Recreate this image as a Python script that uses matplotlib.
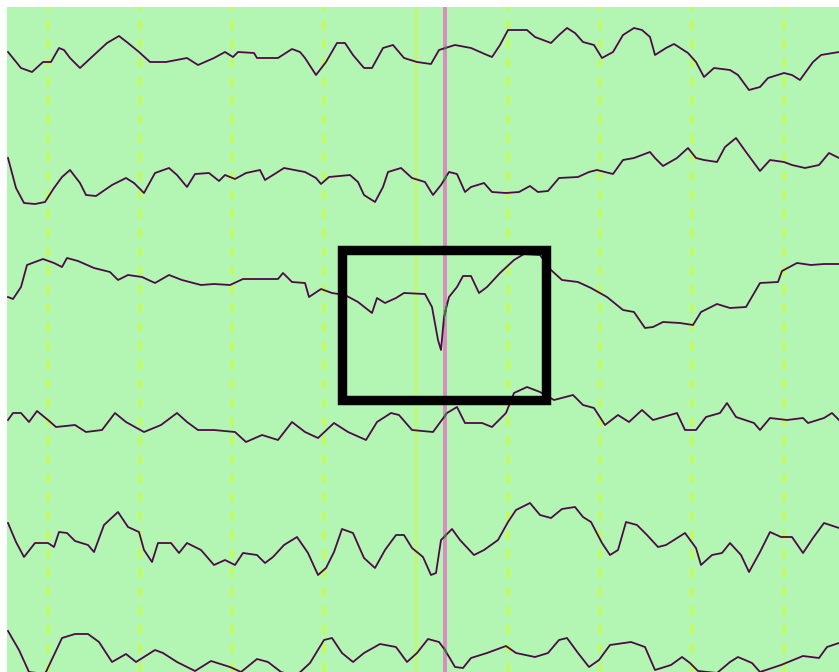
import matplotlib.pyplot as plt
from matplotlib.patches import Rectangle

# six EEG channels, (time px, amplitude px)
ch1_t = [8, 21, 32, 43, 51, 59, 64, 70, 80, 94, 107, 119, 128, 139, 150, 166, 187, 198, 214, 225,
         233, 238, 254, 257, 278, 292, 300, 305, 316, 326, 337, 345, 353, 364, 372, 383, 393, 404,
         417, 431, 439, 455, 471, 487, 492, 500, 508, 527, 535, 551, 559, 567, 575, 583, 594, 602,
         613, 623, 634, 642, 650, 655, 666, 674, 688, 696, 704, 714, 730, 738, 749, 760, 768, 784,
         792, 800, 813, 821, 839]
ch1_v = [52, 68, 72, 62, 62, 48, 50, 58, 68, 55, 43, 36, 43, 52, 62, 62, 58, 65, 58, 52,
         57, 52, 53, 58, 58, 49, 52, 58, 75, 62, 43, 43, 55, 68, 68, 48, 45, 58,
         62, 64, 50, 45, 48, 55, 57, 45, 30, 30, 37, 43, 35, 28, 33, 42, 45, 58,
         52, 35, 28, 30, 37, 55, 48, 44, 53, 62, 77, 68, 70, 75, 90, 87, 78, 73,
         75, 80, 62, 55, 52]

ch2_t = [8, 16, 24, 35, 45, 54, 62, 70, 80, 86, 96, 112, 126, 134, 144, 155, 169, 177, 187, 195,
         209, 219, 225, 235, 246, 260, 265, 273, 284, 305, 316, 321, 329, 350, 358, 364, 375, 383,
         388, 401, 412, 425, 433, 441, 449, 457, 465, 471, 484, 492, 506, 519, 530, 538, 548, 559,
         578, 589, 597, 613, 623, 634, 650, 655, 663, 677, 688, 696, 704, 717, 725, 736, 746, 760,
         770, 784, 792, 805, 819, 829, 839]
ch2_v = [158, 188, 203, 204, 202, 188, 177, 170, 183, 195, 196, 185, 178, 183, 193, 173, 168, 175, 187, 174,
         173, 181, 175, 179, 173, 170, 180, 175, 168, 172, 178, 184, 177, 175, 182, 195, 202, 187,
         172, 168, 178, 182, 195, 185, 172, 174, 192, 187, 183, 192, 193, 192, 186, 192, 191, 178,
         177, 172, 170, 174, 160, 158, 152, 158, 166, 158, 148, 158, 160, 162, 147, 138, 152, 171,
         160, 162, 165, 168, 165, 153, 158]

ch3_t = [8, 13, 21, 27, 35, 43, 54, 62, 67, 78, 94, 110, 118, 128, 142, 155, 169, 182, 201, 214,
         230, 243, 278, 283, 292, 305, 309, 321, 332, 345, 358, 372, 377, 385, 396, 404, 425, 432,
         438, 441, 444, 449, 457, 463, 471, 479, 487, 500, 514, 524, 540, 551, 562, 578, 591, 607,
         623, 634, 645, 653, 663, 680, 693, 701, 717, 730, 746, 760, 778, 782, 797, 811, 824, 839]
ch3_v = [297, 299, 287, 265, 262, 259, 263, 267, 258, 261, 268, 272, 280, 275, 277, 283, 275, 280, 285, 284,
         285, 279, 279, 273, 282, 283, 297, 289, 293, 295, 302, 313, 298, 303, 298, 293, 294, 307,
         340, 350, 317, 297, 287, 276, 276, 293, 287, 273, 260, 254, 255, 270, 280, 282, 288, 297,
         310, 312, 328, 327, 322, 323, 325, 312, 304, 308, 307, 283, 282, 271, 263, 265, 264, 264]

ch4_t = [8, 13, 21, 29, 37, 48, 56, 75, 86, 102, 115, 126, 144, 161, 177, 187, 198, 214, 235, 246,
         262, 278, 292, 305, 318, 334, 348, 366, 377, 391, 399, 412, 433, 447, 457, 465, 482, 492,
         506, 514, 527, 540, 554, 573, 583, 594, 605, 618, 629, 642, 653, 677, 685, 696, 706, 720,
         727, 736, 754, 760, 770, 787, 803, 808, 824, 832, 839]
ch4_v = [420, 413, 413, 422, 411, 420, 427, 425, 432, 430, 413, 422, 432, 425, 413, 422, 430, 430, 432, 442,
         435, 440, 422, 432, 438, 423, 432, 440, 422, 413, 415, 430, 432, 413, 407, 423, 423, 427,
         413, 393, 387, 392, 400, 395, 405, 408, 425, 415, 422, 410, 420, 413, 430, 430, 417, 413,
         403, 417, 423, 430, 418, 420, 418, 423, 418, 413, 420]

ch5_t = [8, 16, 24, 35, 48, 54, 59, 67, 75, 88, 94, 104, 118, 128, 139, 144, 152, 158, 171, 179,
         187, 201, 214, 225, 235, 243, 257, 265, 273, 284, 297, 308, 318, 326, 334, 342, 353, 364,
         375, 385, 396, 404, 412, 423, 431, 436, 441, 452, 460, 474, 484, 498, 508, 516, 530, 540,
         551, 562, 575, 583, 591, 602, 610, 618, 626, 637, 647, 658, 666, 674, 685, 696, 701, 712,
         722, 730, 741, 749, 760, 770, 781, 792, 803, 813, 824, 839]
ch5_v = [523, 542, 557, 543, 543, 547, 532, 533, 541, 545, 552, 525, 512, 527, 532, 550, 562, 543, 543, 553,
         543, 550, 565, 560, 565, 553, 555, 563, 557, 545, 537, 553, 575, 568, 552, 529, 533, 558,
         568, 550, 535, 535, 548, 557, 575, 573, 540, 529, 540, 555, 550, 540, 522, 510, 503, 515,
         518, 509, 507, 517, 522, 543, 555, 550, 522, 525, 535, 547, 545, 540, 533, 548, 565, 555,
         553, 543, 555, 572, 552, 532, 537, 537, 553, 538, 523, 528]

ch6_t = [8, 19, 29, 45, 54, 62, 75, 88, 99, 112, 126, 136, 155, 163, 177, 195, 211, 230, 241, 257,
         268, 281, 296, 310, 324, 332, 342, 353, 364, 380, 396, 407, 417, 428, 439, 445, 455, 463,
         471, 487, 506, 516, 535, 548, 559, 567, 578, 589, 599, 610, 631, 645, 655, 671, 682, 690,
         698, 717, 730, 738, 752, 760, 781, 803, 819, 827, 839]
ch6_v = [631, 650, 672, 674, 655, 638, 634, 634, 642, 662, 654, 662, 650, 653, 662, 671, 661, 667, 672, 659,
         662, 672, 676, 663, 640, 638, 653, 662, 653, 644, 647, 662, 653, 639, 642, 650, 667, 668,
         658, 653, 646, 653, 657, 653, 640, 638, 653, 667, 660, 645, 642, 647, 670, 665, 657, 663,
         671, 673, 662, 657, 663, 672, 665, 656, 658, 647, 643]

channels = [(ch1_t, ch1_v), (ch2_t, ch2_v), (ch3_t, ch3_v),
            (ch4_t, ch4_v), (ch5_t, ch5_v), (ch6_t, ch6_v)]

grid_dashed = [48, 140, 232, 324, 508, 600, 692, 784]
grid_solid = 416
cursor_x = 445
box_x = [342, 546]
box_y = [250, 400]

fig = plt.figure(figsize=(8.39, 6.72), dpi=100)
ax = fig.add_axes([7 / 839, 0, 832 / 839, 665 / 672])
ax.set_xlim(7, 839)
ax.set_ylim(672, 7)
ax.axis('off')
ax.add_patch(Rectangle((7, 7), 832, 665, facecolor='#b3f6b3', edgecolor='none', zorder=0))

for gx in grid_dashed:
    ax.axvline(gx, color='#ccff33', lw=1.7, dashes=(4, 4), zorder=1)
ax.axvline(grid_solid, color='#ccff33', lw=1.1, zorder=1)
ax.axvline(cursor_x, color='#d98cc0', lw=2.8, zorder=2)

# where the traces cross the cursor they show up dark green
cursor_band = Rectangle((cursor_x - 1.5, 0), 3, 680, transform=ax.transData)
for t, v in channels:
    ax.plot(t, v, color='#4d0a47', lw=1.3, zorder=3)
    seg, = ax.plot(t, v, color='#2f7a3c', lw=1.6, zorder=3.5)
    seg.set_clip_path(cursor_band)

ax.add_patch(Rectangle((box_x[0], box_y[0]), box_x[1] - box_x[0], box_y[1] - box_y[0],
                       fill=False, edgecolor='black', lw=6.8, joinstyle='miter', zorder=4))

fig.savefig('out.png', dpi=100)
